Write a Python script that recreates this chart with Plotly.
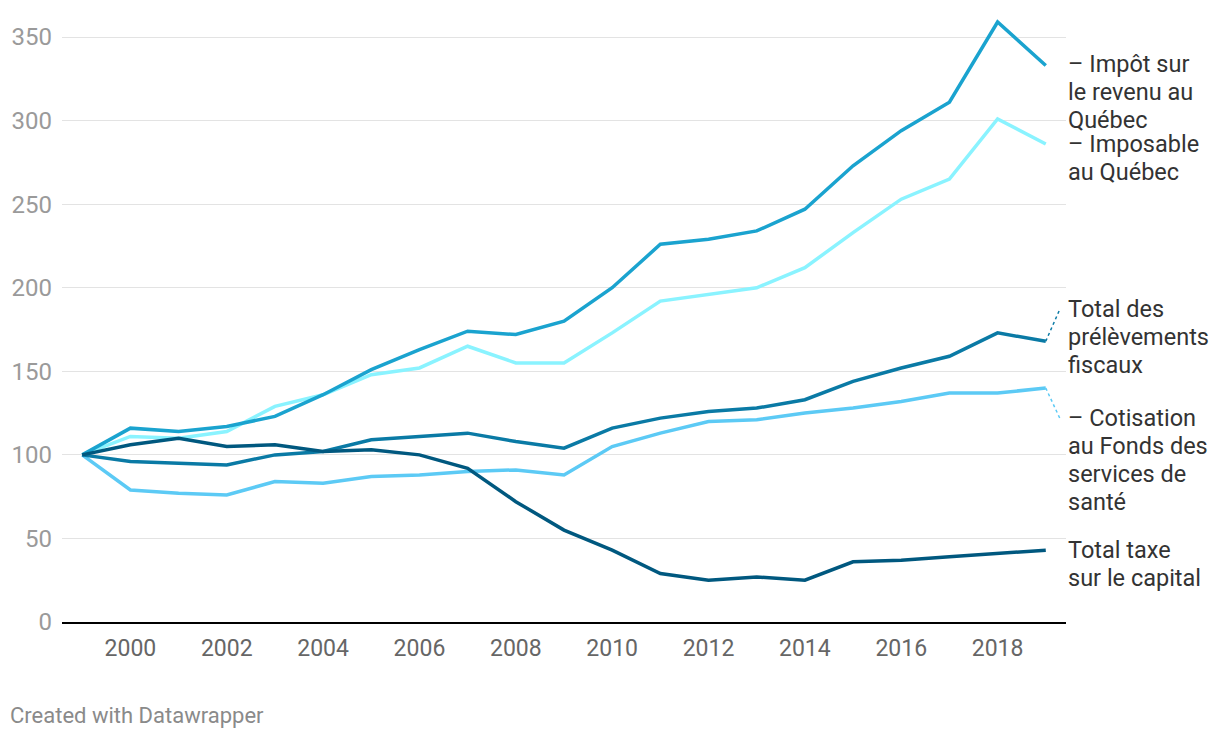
import plotly.graph_objects as go

years = list(range(1999, 2020))

impot_revenu = [100, 116, 114, 117, 123, 136, 151, 163, 174, 172, 180, 200, 226, 229, 234, 247, 273, 294, 311, 359, 333]
imposable = [100, 111, 110, 114, 129, 136, 148, 152, 165, 155, 155, 173, 192, 196, 200, 212, 233, 253, 265, 301, 286]
prelevements = [100, 96, 95, 94, 100, 102, 109, 111, 113, 108, 104, 116, 122, 126, 128, 133, 144, 152, 159, 173, 168]
cotisation = [100, 79, 77, 76, 84, 83, 87, 88, 90, 91, 88, 105, 113, 120, 121, 125, 128, 132, 137, 137, 140]
taxe_capital = [100, 106, 110, 105, 106, 102, 103, 100, 92, 72, 55, 43, 29, 25, 27, 25, 36, 37, 39, 41, 43]

# (label lines, values, colour, label anchor value for first line)
series = [
    (["– Impôt sur", "le revenu au", "Québec"], impot_revenu, "#1aa3cf", 334),
    (["– Imposable", "au Québec"], imposable, "#8af3ff", 286),
    (["Total des", "prélèvements", "fiscaux"], prelevements, "#0a7aa5", 187),
    (["– Cotisation", "au Fonds des", "services de", "santé"], cotisation, "#5ccaf5", 122),
    (["Total taxe", "sur le capital"], taxe_capital, "#00587f", 43),
]

y_ticks = [0, 50, 100, 150, 200, 250, 300, 350]
x_ticks = [2000, 2002, 2004, 2006, 2008, 2010, 2012, 2014, 2016, 2018]

fig = go.Figure()
order = [1, 3, 0, 2, 4]
for i in order:
    lines, vals, color, _ = series[i]
    fig.add_trace(go.Scatter(x=years, y=vals, mode="lines", name=" ".join(lines),
                             line=dict(color=color, width=3.5), showlegend=False,
                             hoverinfo="skip"))

annotations = []
for lines, vals, color, ly in series:
    for k, txt in enumerate(lines):
        annotations.append(dict(x=1, xref="paper", y=ly, yref="y", text=txt,
                                showarrow=False, xanchor="left", yanchor="middle",
                                align="left", xshift=0, yshift=-28 * k,
                                font=dict(family="Roboto", size=23.5, color="#333333")))

annotations.append(dict(x=0, xref="paper", y=0, yref="paper", text="Created with Datawrapper",
                        showarrow=False, xanchor="left", yanchor="middle",
                        xshift=-54, yshift=-93,
                        font=dict(family="Roboto", size=22, color="#8a8a8a")))

shapes = [
    dict(type="line", xref="x", yref="y", x0=2019, y0=prelevements[-1], x1=2019.29, y1=series[2][3],
         line=dict(color="#0a7aa5", width=1.5, dash="dot")),
    dict(type="line", xref="x", yref="y", x0=2019, y0=cotisation[-1], x1=2019.29, y1=series[3][3],
         line=dict(color="#5ccaf5", width=1.5, dash="dot")),
]

fig.update_layout(
    width=1220, height=738,
    margin=dict(l=62, r=154, t=12, b=116),
    paper_bgcolor="white", plot_bgcolor="white",
    font=dict(family="Roboto", size=20, color="#333333"),
    annotations=annotations,
    shapes=shapes,
    xaxis=dict(range=[1998.58, 2019.42], tickvals=x_ticks, ticktext=[str(v) for v in x_ticks],
               showgrid=False, zeroline=False, showline=True, linecolor="#000000", linewidth=2,
               ticks="", tickfont=dict(family="Roboto", size=23, color="#666666"),
               ticklabelstandoff=4, fixedrange=True),
    yaxis=dict(range=[0, 365], tickvals=y_ticks, ticktext=[str(v) for v in y_ticks],
               showgrid=True, gridcolor="#e3e3e3", gridwidth=1, zeroline=False,
               showline=False, ticks="", tickfont=dict(family="Roboto", size=24, color="#9a9a9a"),
               ticklabelstandoff=9, fixedrange=True),
)

fig.write_html("out.html")
